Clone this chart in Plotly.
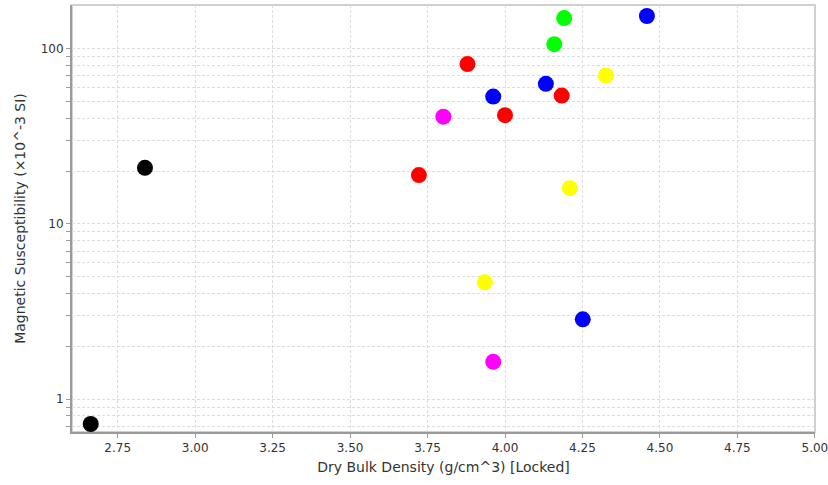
import plotly.graph_objects as go
import math

# Data grouped by marker colour
black_x = [2.663, 2.838]
black_y = [0.72, 20.9]
red_x = [3.722, 3.879, 4.000, 4.183]
red_y = [19.0, 81.8, 41.8, 54.1]
magenta_x = [3.801, 3.962]
magenta_y = [41.0, 1.63]
blue_x = [3.962, 4.132, 4.458, 4.251]
blue_y = [53.4, 63.1, 154.0, 2.85]
green_x = [4.159, 4.191]
green_y = [106.3, 149.8]
yellow_x = [4.326, 4.209, 3.935]
yellow_y = [70.4, 16.0, 4.64]

groups = [
    (black_x, black_y, "#000000"),
    (red_x, red_y, "#ff0000"),
    (magenta_x, magenta_y, "#ff00ff"),
    (blue_x, blue_y, "#0000ff"),
    (green_x, green_y, "#00ff00"),
    (yellow_x, yellow_y, "#ffff00"),
]

x_ticks = [2.75, 3.00, 3.25, 3.50, 3.75, 4.00, 4.25, 4.50, 4.75, 5.00]
x_tick_labels = ["2.75", "3.00", "3.25", "3.50", "3.75", "4.00", "4.25", "4.50", "4.75", "5.00"]
y_ticks = [1, 10, 100]
y_tick_labels = ["1", "10", "100"]

fig = go.Figure()
for xs, ys, c in groups:
    fig.add_trace(go.Scatter(x=xs, y=ys, mode="markers",
                             marker=dict(color=c, size=16, line=dict(width=0)),
                             showlegend=False, cliponaxis=False))

grid = "#dcdcdc"
axis_col = "#9a9a9a"
font = dict(family="DejaVu Sans, Arial, sans-serif", size=12, color="#333333")

fig.update_layout(
    width=828, height=485,
    margin=dict(l=72, r=13, t=5, b=53),
    paper_bgcolor="white", plot_bgcolor="white",
    font=font,
    xaxis=dict(
        range=[2.6025, 5.0005],
        automargin=False,
        ticklabeloverflow="allow",
        tickvals=x_ticks, ticktext=x_tick_labels,
        showgrid=True, gridcolor=grid, griddash="3px,2px", gridwidth=1,
        zeroline=False,
        showline=True, linecolor=axis_col, linewidth=2,
        ticks="outside", ticklen=4, tickcolor=axis_col,
        tickfont=dict(size=12, color="#333333"),
        title=dict(text="Dry Bulk Density (g/cm^3) [Locked]", font=dict(size=14, color="#333333"), standoff=8),
    ),
    yaxis=dict(
        type="log",
        automargin=False,
        range=[math.log10(0.648), math.log10(178)],
        tickvals=y_ticks, ticktext=y_tick_labels,
        showgrid=True, gridcolor=grid, griddash="3px,2px", gridwidth=1,
        zeroline=False,
        showline=True, linecolor=axis_col, linewidth=2,
        ticks="outside", ticklen=4, tickcolor=axis_col,
        tickfont=dict(size=12, color="#333333"),
        minor=dict(tickvals=[d * 10 ** e for e in range(-1, 3) for d in range(2, 10)],
                   showgrid=True, gridcolor=grid, griddash="3px,2px", gridwidth=1,
                   ticks="outside", ticklen=4, tickcolor=axis_col),
        title=dict(text="Magnetic Susceptibility (\u00d710^-3 SI)", font=dict(size=14, color="#333333"), standoff=12),
    ),
    shapes=[dict(type="rect", xref="paper", yref="paper", x0=0, x1=1, y0=0, y1=1,
                 line=dict(color="#d0d0d0", width=2), layer="below")],
)

fig.write_html("out.html", config={"displayModeBar": False},
               post_script="document.body.style.margin='0';")
